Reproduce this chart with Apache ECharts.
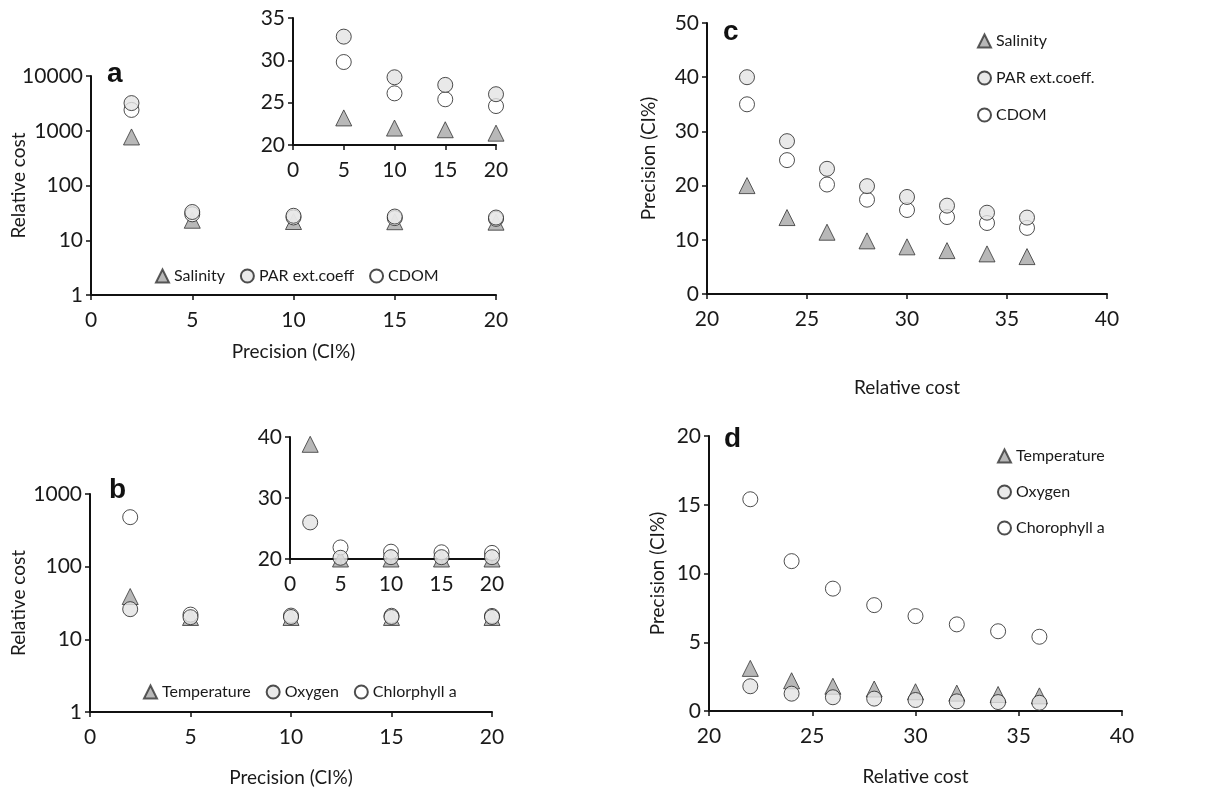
<!DOCTYPE html>
<html>
<head>
<meta charset="UTF-8">
<title>Relative cost vs precision</title>
<style>
    body { margin: 0; padding: 0; background: #FFFFFF; overflow: hidden; }
    #main_chart { width: 1229px; height: 791px; }
</style>
</head>
<body>
<div id="main_chart"></div>
<script src="https://cdn.jsdelivr.net/npm/echarts@6/dist/echarts.min.js"></script>
<script>
// precision levels (CI%) used in panels a and b
var precisionLevels = [2, 5, 10, 15, 20];
// relative cost for each precision level
var salinityCost    = [770, 23.2, 22.0, 21.8, 21.4];
var parCost         = [3200, 32.8, 28.0, 27.1, 26.0];
var cdomCost        = [2400, 29.8, 26.1, 25.4, 24.6];
var temperatureCost = [38.8, 20.0, 20.0, 20.0, 20.0];
var oxygenCost      = [26.0, 20.2, 20.3, 20.3, 20.3];
var chlorophyllCost = [480, 21.9, 21.2, 21.1, 21.0];

// relative cost levels used in panels c and d
var costLevels = [22, 24, 26, 28, 30, 32, 34, 36];
var salinityPrec    = [20.0, 14.1, 11.4, 9.8, 8.7, 8.0, 7.4, 6.9];
var parPrec         = [40.0, 28.2, 23.1, 19.9, 17.9, 16.3, 15.0, 14.1];
var cdomPrec        = [35.0, 24.7, 20.2, 17.4, 15.5, 14.2, 13.1, 12.2];
var temperaturePrec = [3.1, 2.2, 1.8, 1.6, 1.4, 1.3, 1.2, 1.1];
var oxygenPrec      = [1.8, 1.26, 1.0, 0.9, 0.8, 0.7, 0.65, 0.6];
var chlorophyllPrec = [15.4, 10.9, 8.9, 7.7, 6.9, 6.3, 5.8, 5.4];

var FONT = 'Lato';
var TXT = '#1a1a1a';

function pairs(xs, ys) {
    return xs.map(function (x, i) { return [x, ys[i]]; });
}

var triStyle   = { color: '#a6a6a6', borderColor: '#333', borderWidth: 1 };
var greyStyle  = { color: '#e3e3e3', borderColor: '#222', borderWidth: 1 };
var whiteStyle = { color: '#ffffff', borderColor: '#222', borderWidth: 1 };

function sc(name, idx, data, kind) {
    return {
        type: 'scatter',
        name: name,
        xAxisIndex: idx,
        yAxisIndex: idx,
        data: data,
        clip: true,
        symbol: kind === 'tri' ? 'triangle' : 'circle',
        symbolSize: kind === 'tri' ? 16 : 15,
        itemStyle: kind === 'tri' ? triStyle : (kind === 'grey' ? greyStyle : whiteStyle),
        emphasis: { disabled: true }
    };
}

var axisLine = { show: true, onZero: false, lineStyle: { color: '#111', width: 2 } };
var axisTick = { show: true, inside: false, length: 5, lineStyle: { color: '#111', width: 1.5 } };
var xLabel = { color: TXT, fontFamily: FONT, fontSize: 21, margin: 15 };
var yLabel = { color: TXT, fontFamily: FONT, fontSize: 21, margin: 8,
               formatter: function (v) { return String(v); } };
var nameStyle = { color: TXT, fontFamily: FONT, fontSize: 19 };

function xAx(grid, min, max, interval, name, gap) {
    return {
        type: 'value', gridIndex: grid, min: min, max: max, interval: interval,
        axisLine: axisLine, axisTick: axisTick, axisLabel: xLabel,
        splitLine: { show: false },
        name: name || '', nameLocation: 'middle', nameGap: gap || 0,
        nameMoveOverlap: false, nameTextStyle: nameStyle
    };
}
function yAx(grid, min, max, interval, name, gap, log) {
    var a = {
        type: log ? 'log' : 'value', gridIndex: grid, min: min, max: max,
        axisLine: axisLine, axisTick: axisTick, axisLabel: yLabel,
        splitLine: { show: false },
        name: name || '', nameLocation: 'middle', nameGap: gap || 0,
        nameMoveOverlap: false, nameTextStyle: nameStyle
    };
    if (log) { a.logBase = 10; } else { a.interval = interval; }
    return a;
}

function gr(left, top, width, height) {
    return { left: left, top: top, width: width, height: height,
             containLabel: false, outerBoundsMode: 'none' };
}

var legendText = { color: TXT, fontFamily: FONT, fontSize: 16 };
var titleText = { fontSize: 28, fontWeight: 'bold', fontFamily: 'Liberation Sans', color: '#111' };

var option = {
    animation: false,
    backgroundColor: '#ffffff',
    title: [
        { text: 'a', left: 102, top: 55, textStyle: titleText },
        { text: 'b', left: 104, top: 471, textStyle: titleText },
        { text: 'c', left: 718, top: 13, textStyle: titleText },
        { text: 'd', left: 719, top: 420, textStyle: titleText }
    ],
    grid: [
        gr(91, 76, 405, 219),   // a
        gr(293, 18, 203, 127),  // a inset
        gr(90, 494, 402, 218),  // b
        gr(290, 437, 202, 122), // b inset
        gr(707, 23, 400, 271),  // c
        gr(709, 436, 413, 275)  // d
    ],
    xAxis: [
        xAx(0, 0, 20, 5, 'Precision (CI%)', 47),
        xAx(1, 0, 20, 5),
        xAx(2, 0, 20, 5, 'Precision (CI%)', 56),
        xAx(3, 0, 20, 5),
        xAx(4, 20, 40, 5, 'Relative cost', 84),
        xAx(5, 20, 40, 5, 'Relative cost', 56)
    ],
    yAxis: [
        yAx(0, 1, 10000, null, 'Relative cost', 63, true),
        yAx(1, 20, 35, 5),
        yAx(2, 1, 1000, null, 'Relative cost', 62, true),
        yAx(3, 20, 40, 10),
        yAx(4, 0, 50, 10, 'Precision (CI%)', 49),
        yAx(5, 0, 20, 5, 'Precision (CI%)', 42)
    ],
    legend: [
        { left: 150, top: 263, orient: 'horizontal', itemGap: 15, itemWidth: 13, itemHeight: 13,
          textStyle: legendText, data: ['Salinity', 'PAR ext.coeff', 'CDOM'] },
        { left: 138, top: 679, orient: 'horizontal', itemGap: 15, itemWidth: 13, itemHeight: 13,
          textStyle: legendText, data: ['Temperature', 'Oxygen', 'Chlorphyll a'] },
        { left: 972, top: 28, orient: 'vertical', itemGap: 21, itemWidth: 13, itemHeight: 13,
          textStyle: legendText, data: ['Salinity', 'PAR ext.coeff.', 'CDOM'] },
        { left: 992, top: 443, orient: 'vertical', itemGap: 20, itemWidth: 13, itemHeight: 13,
          textStyle: legendText, data: ['Temperature', 'Oxygen', 'Chorophyll a'] }
    ],
    series: [
        // a
        sc('Salinity', 0, pairs(precisionLevels, salinityCost), 'tri'),
        sc('CDOM', 0, pairs(precisionLevels, cdomCost), 'white'),
        sc('PAR ext.coeff', 0, pairs(precisionLevels, parCost), 'grey'),
        // a inset
        sc('Salinity', 1, pairs(precisionLevels, salinityCost), 'tri'),
        sc('CDOM', 1, pairs(precisionLevels, cdomCost), 'white'),
        sc('PAR ext.coeff', 1, pairs(precisionLevels, parCost), 'grey'),
        // b
        sc('Temperature', 2, pairs(precisionLevels, temperatureCost), 'tri'),
        sc('Chlorphyll a', 2, pairs(precisionLevels, chlorophyllCost), 'white'),
        sc('Oxygen', 2, pairs(precisionLevels, oxygenCost), 'grey'),
        // b inset
        sc('Temperature', 3, pairs(precisionLevels, temperatureCost), 'tri'),
        sc('Chlorphyll a', 3, pairs(precisionLevels, chlorophyllCost), 'white'),
        sc('Oxygen', 3, pairs(precisionLevels, oxygenCost), 'grey'),
        // c
        sc('Salinity', 4, pairs(costLevels, salinityPrec), 'tri'),
        sc('CDOM', 4, pairs(costLevels, cdomPrec), 'white'),
        sc('PAR ext.coeff.', 4, pairs(costLevels, parPrec), 'grey'),
        // d
        sc('Temperature', 5, pairs(costLevels, temperaturePrec), 'tri'),
        sc('Chorophyll a', 5, pairs(costLevels, chlorophyllPrec), 'white'),
        sc('Oxygen', 5, pairs(costLevels, oxygenPrec), 'grey')
    ]
};

var chart = echarts.init(document.getElementById('main_chart'));
chart.setOption(option);
</script>
</body>
</html>
